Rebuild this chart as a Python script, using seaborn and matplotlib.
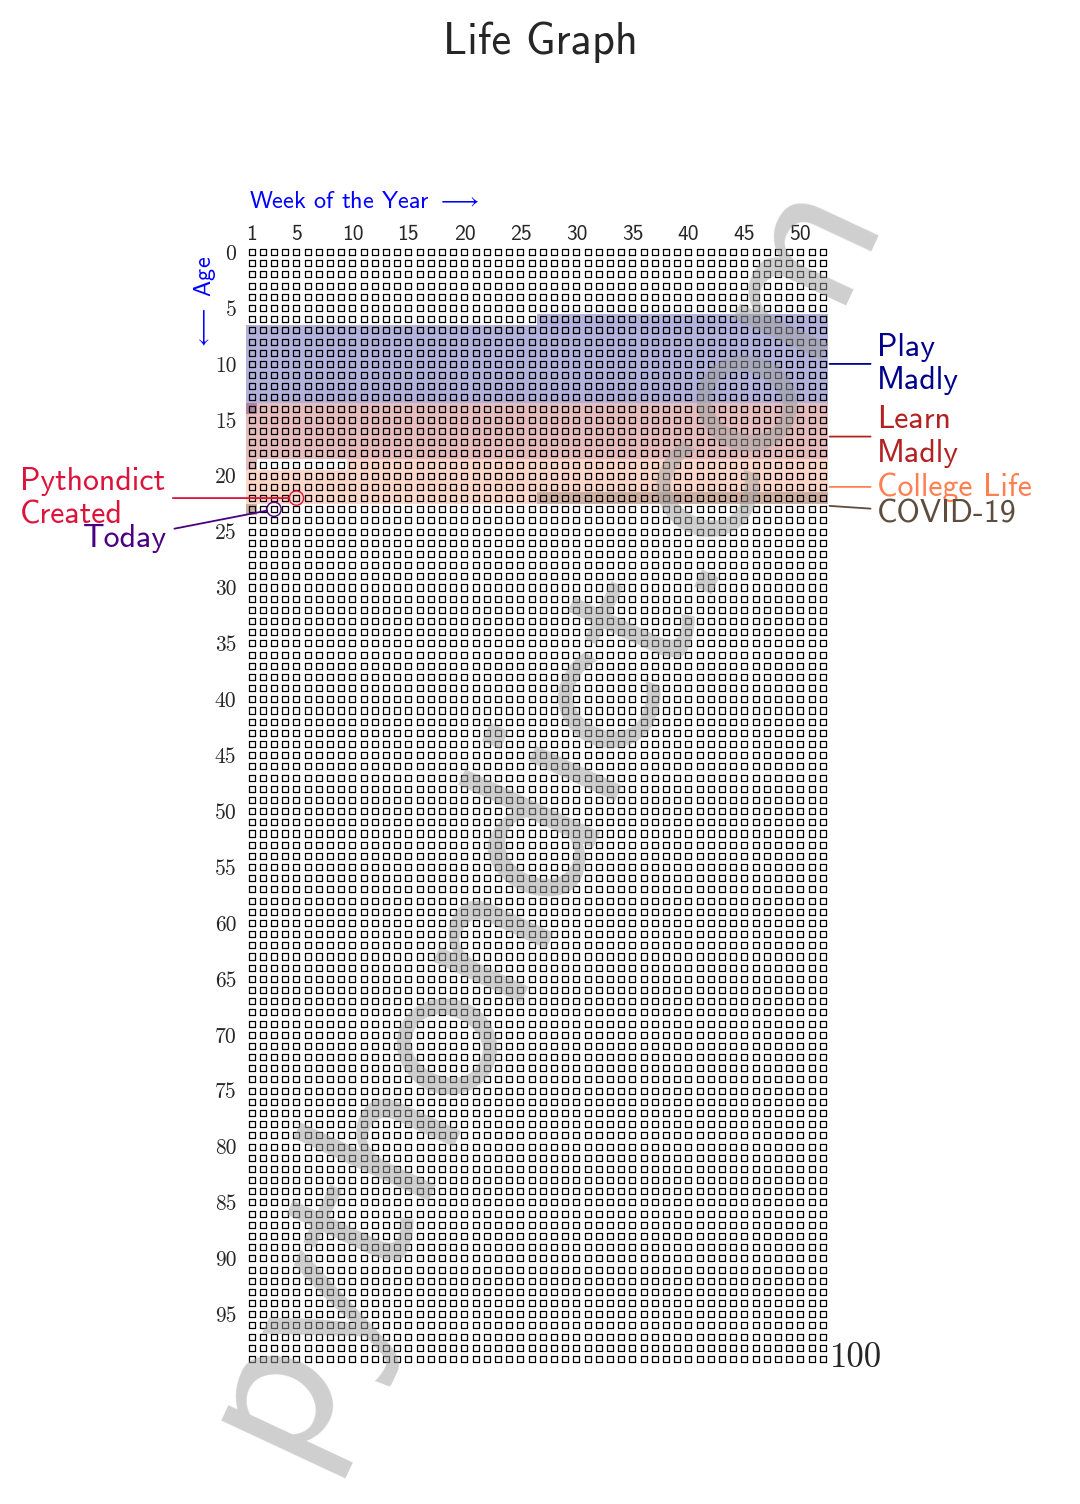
import numpy as np
import pandas as pd
import matplotlib
matplotlib.use("Agg")
import matplotlib.pyplot as plt
import seaborn as sns

# Estilo general
sns.set_style("white")
plt.rcParams['mathtext.fontset'] = 'cm'

SANS = 'cmss10'
SERIF = 'cmr10'

# ---------------------------------------------------------
# Datos de la grilla: semanas x edades
# ---------------------------------------------------------
weeks = np.arange(1, 53)
ages = np.arange(0, 100)
x_tick_weeks = [1, 5, 10, 15, 20, 25, 30, 35, 40, 45, 50]
y_tick_ages = list(range(0, 100, 5))

# Etapas (inicio / fin inclusive, en edad y semana)
phase_names = ["Play\nMadly", "Learn\nMadly", "College Life", "COVID-19"]
phase_start_age = [6, 14, 19, 22]
phase_start_week = [27, 1, 10, 27]
phase_end_age = [14, 19, 23, 23]
phase_end_week = [1, 1, 1, 1]
phase_colors = ["#00008B", "#B22222", "#FF7F50", "#5E4D3D"]

# Hitos marcados con un círculo
event_names = ["Pythondict\nCreated", "Today"]
event_age = [22, 23]
event_week = [5, 3]
event_colors = ["#DC143C", "#4B0082"]

# Posiciones de las etiquetas (en coordenadas de datos)
phase_label_xy = [(56.8, 10.0), (56.8, 16.5), (56.8, 21.0), (56.8, 23.4)]
phase_line_y = [10.0, 16.5, 21.0, 22.7]
event_label_xy = [(-6.7, 22.0), (-6.55, 25.6)]


def segmentos(a0, w0, a1, w1):
    segs = []
    for a in range(a0, a1 + 1):
        ini = w0 if a == a0 else 1
        fin = w1 if a == a1 else 52
        segs.append((a, ini, fin))
    return segs


fig = plt.figure(figsize=(10.8, 15.04), dpi=100)
ax = fig.add_axes([0.2278, 0.0927, 0.5393, 0.7434])

# --- sombreado de cada etapa ---
for i, nombre in enumerate(phase_names):
    for a, ini, fin in segmentos(phase_start_age[i], phase_start_week[i],
                                 phase_end_age[i], phase_end_week[i]):
        ax.barh(a, fin - ini + 1, left=ini - 0.5, height=1.0,
                color=phase_colors[i], alpha=0.3, linewidth=0, zorder=1)

# --- grilla de cuadraditos ---
ww, aa = np.meshgrid(weeks, ages)
df_grilla = pd.DataFrame({'semana': ww.ravel(), 'edad': aa.ravel()})
sns.scatterplot(data=df_grilla, x='semana', y='edad', marker='s', s=19,
                facecolors='none', edgecolor='black', linewidth=0.9,
                ax=ax, zorder=2, legend=False)

# --- hitos ---
for i, nombre in enumerate(event_names):
    sns.scatterplot(x=[event_week[i]], y=[event_age[i]], marker='o', s=105,
                    facecolors='none', edgecolor=event_colors[i], linewidth=1.0,
                    ax=ax, zorder=3, legend=False)
    ax.annotate(nombre, xy=(event_week[i], event_age[i]), xytext=event_label_xy[i],
                ha='right', va='center', multialignment='left',
                fontsize=23, family=SANS, color=event_colors[i],
                arrowprops=dict(arrowstyle='-', color=event_colors[i], lw=1.3,
                                shrinkA=3, shrinkB=5),
                annotation_clip=False)

# --- etiquetas de las etapas ---
for i, nombre in enumerate(phase_names):
    ax.annotate(nombre, xy=(52.6, phase_line_y[i]), xytext=phase_label_xy[i],
                ha='left', va='center', multialignment='left',
                fontsize=23, family=SANS, color=phase_colors[i],
                arrowprops=dict(arrowstyle='-', color=phase_colors[i], lw=1.3,
                                shrinkA=2, shrinkB=0),
                annotation_clip=False)

ax.text(52.62, 99.75, "100", family=SERIF, fontsize=25, ha='left', va='baseline')

# --- ejes ---
ax.set_xlim(0.5, 52.5)
ax.set_ylim(99.5, -0.5)
ax.xaxis.tick_top()
ax.set_xticks(x_tick_weeks)
ax.set_xticklabels([str(w) for w in x_tick_weeks], family=SANS, fontsize=15.5)
ax.set_yticks(y_tick_ages)
ax.set_yticklabels([str(a) for a in y_tick_ages], family=SERIF, fontsize=15.5)
ax.tick_params(axis='x', length=0, pad=1.5)
ax.tick_params(axis='y', length=0, pad=7)
ax.set_xlabel('')
ax.set_ylabel('')
sns.despine(ax=ax, left=True, bottom=True, top=True, right=True)

fig.text(249 / 1080, 1 - 202 / 1504, r"Week of the Year $\longrightarrow$",
         family=SANS, fontsize=17.5, color='blue', ha='left', va='center')
fig.text(205 / 1080, 1 - 303 / 1504, r"$\longleftarrow$ Age",
         family=SANS, fontsize=17.5, color='blue', ha='center', va='center',
         rotation=90)

fig.suptitle("Life Graph", family=SANS, fontsize=32, y=1 - 42 / 1504, va='center')

# marca de agua
fig.text(536 / 1080, 1 - 810 / 1504, "pythondict.com", family=SANS, fontsize=155,
         color='#a0a0a0', alpha=0.5, rotation=65, rotation_mode='anchor',
         ha='center', va='center', zorder=10)

plt.savefig('out.png', dpi=100)
